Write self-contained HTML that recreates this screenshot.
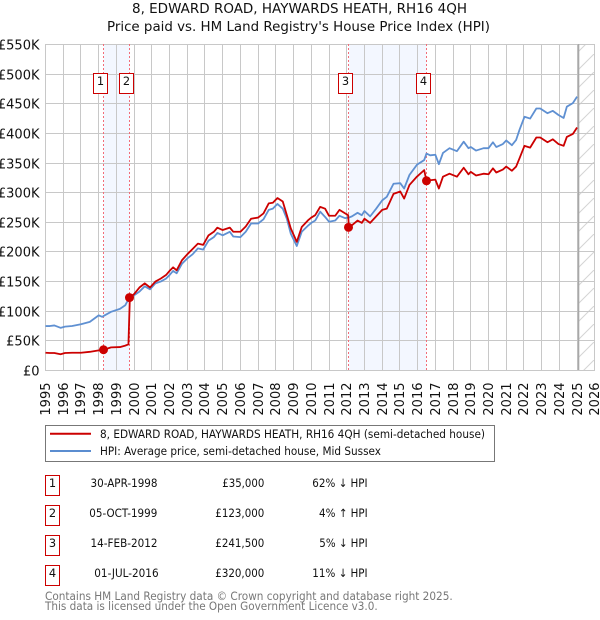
<!DOCTYPE html>
<html lang="en">
<head>
<meta charset="utf-8">
<title>8, Edward Road price paid vs HPI</title>
<style>
html,body{margin:0;padding:0;background:#fff;width:600px;height:620px;overflow:hidden}
svg{display:block}
text{font-family:"DejaVu Sans","Liberation Sans",sans-serif;fill:#111}
.tick{font-size:13px}
.row{font-size:11.4px}
.foot{font-size:11.4px;fill:#777}
</style>
</head>
<body>
<svg id="chart" xmlns="http://www.w3.org/2000/svg" width="600" height="620" viewBox="0 0 600 620">
  <defs>
    <pattern id="hatch" patternUnits="userSpaceOnUse" width="18" height="18">
      <line x1="0" y1="18" x2="18" y2="0" stroke="#d4d4d4" stroke-width="1"/>
    </pattern>
  </defs>
  <text x="132" y="13" textLength="335" lengthAdjust="spacingAndGlyphs" style="font-size:13px">8, EDWARD ROAD, HAYWARDS HEATH, RH16 4QH</text>
  <text x="107" y="31" textLength="383" lengthAdjust="spacingAndGlyphs" style="font-size:13px">Price paid vs. HM Land Registry's House Price Index (HPI)</text>
  <g id="plot"></g>

  <g>
    <rect x="45.5" y="425.5" width="449" height="36" fill="#fff" stroke="#777" stroke-width="1"/>
    <line x1="50" y1="433.7" x2="91" y2="433.7" stroke="#cc0000" stroke-width="2"/>
    <text class="row" x="100" y="438" textLength="385" lengthAdjust="spacingAndGlyphs">8, EDWARD ROAD, HAYWARDS HEATH, RH16 4QH (semi-detached house)</text>
    <line x1="50" y1="451" x2="91" y2="451" stroke="#5b8dd0" stroke-width="2"/>
    <text class="row" x="100" y="455" textLength="281" lengthAdjust="spacingAndGlyphs">HPI: Average price, semi-detached house, Mid Sussex</text>
  </g>

  <g>
    <g>
      <rect x="45.5" y="475.5" width="14" height="20" fill="#fff" stroke="#c00"/>
      <text class="row" x="52.5" y="487" text-anchor="middle">1</text>
      <text class="row" x="90.5" y="487" textLength="67" lengthAdjust="spacingAndGlyphs">30-APR-1998</text>
      <text class="row" x="222.3" y="487" textLength="42" lengthAdjust="spacingAndGlyphs">£35,000</text>
      <text class="row" x="312.3" y="487" textLength="55.3" lengthAdjust="spacingAndGlyphs">62% ↓ HPI</text>
    </g>
    <g>
      <rect x="45.5" y="505.5" width="14" height="20" fill="#fff" stroke="#c00"/>
      <text class="row" x="52.5" y="517" text-anchor="middle">2</text>
      <text class="row" x="89.3" y="517" textLength="68" lengthAdjust="spacingAndGlyphs">05-OCT-1999</text>
      <text class="row" x="215.3" y="517" textLength="49" lengthAdjust="spacingAndGlyphs">£123,000</text>
      <text class="row" x="319" y="517" textLength="48.7" lengthAdjust="spacingAndGlyphs">4% ↑ HPI</text>
    </g>
    <g>
      <rect x="45.5" y="535.5" width="14" height="20" fill="#fff" stroke="#c00"/>
      <text class="row" x="52.5" y="547" text-anchor="middle">3</text>
      <text class="row" x="90.5" y="547" textLength="67" lengthAdjust="spacingAndGlyphs">14-FEB-2012</text>
      <text class="row" x="215.3" y="547" textLength="49" lengthAdjust="spacingAndGlyphs">£241,500</text>
      <text class="row" x="319.3" y="547" textLength="48.3" lengthAdjust="spacingAndGlyphs">5% ↓ HPI</text>
    </g>
    <g>
      <rect x="45.5" y="565.5" width="14" height="20" fill="#fff" stroke="#c00"/>
      <text class="row" x="52.5" y="577" text-anchor="middle">4</text>
      <text class="row" x="94.3" y="577" textLength="64.3" lengthAdjust="spacingAndGlyphs">01-JUL-2016</text>
      <text class="row" x="215.3" y="577" textLength="49" lengthAdjust="spacingAndGlyphs">£320,000</text>
      <text class="row" x="312.3" y="577" textLength="55.3" lengthAdjust="spacingAndGlyphs">11% ↓ HPI</text>
    </g>
  </g>

  <text class="foot" x="45" y="600" textLength="407.7" lengthAdjust="spacingAndGlyphs">Contains HM Land Registry data © Crown copyright and database right 2025.</text>
  <text class="foot" x="45" y="610" textLength="332.7" lengthAdjust="spacingAndGlyphs">This data is licensed under the Open Government Licence v3.0.</text>
</svg>
<script>
const xTickYears = [1995,1996,1997,1998,1999,2000,2001,2002,2003,2004,2005,2006,2007,2008,2009,2010,2011,2012,2013,2014,2015,2016,2017,2018,2019,2020,2021,2022,2023,2024,2025,2026];
const yTickValues = [0,50,100,150,200,250,300,350,400,450,500,550];
const yTickLabels = ["£0","£50K","£100K","£150K","£200K","£250K","£300K","£350K","£400K","£450K","£500K","£550K"];

const dates = [1995,1995.25,1995.5,1995.85,1996.1,1996.5,1997,1997.5,1998,1998.2,1998.28,1998.7,1999.2,1999.5,1999.68,1999.76,
2000,2000.3,2000.6,2000.9,2001.2,2001.5,2001.8,2002,2002.2,2002.4,2002.7,2003,2003.3,2003.6,2003.9,2004.2,2004.5,2004.7,2005,2005.4,2005.6,2006,2006.3,2006.6,2007,2007.3,2007.6,
2007.83,2008.09,2008.39,2008.62,2008.84,2009.18,2009.46,2009.84,2010,2010.22,2010.5,2010.78,2011,2011.35,2011.59,2011.91,2012.08,2012.12,2012.29,2012.61,2012.85,2013,2013.32,2013.66,2014,2014.26,2014.64,2015.02,2015.24,2015.54,2015.96,2016.37,2016.5,
2016.71,2017,2017.2,2017.43,2017.8,2018.22,2018.6,2018.87,2019,2019.3,2019.72,2020,2020.25,2020.44,2020.81,2021,2021.32,2021.56,2021.75,2022.03,2022.35,2022.7,2022.92,2023.33,2023.63,2023.95,2024.24,2024.42,2024.76,2025];

const hpiValues = [75,75,76,72,74,75,78,82,93,90.5,92,99,104,110,120,122,
127,133,142,137,147,150,155,161,168,164,180,189,196,206,204,219,225,232,228,234,226,225,234,248,248,255,271,
273,281,273,256,231,210,234,245,249,253,268,259,251,253,261,257,258,258,260,266,262,269,260,273,287,293,315,316,307,330,347,355,366,
363,364,348,367,375,370,386,375,377,371,375,375,385,377,382,388,380,389,406,428,425,442,442,434,438,431,426,445,451,462];

const paidValues = [30,29.5,29.5,27.5,29.5,30,30,31.5,34,34.5,35,39,39.5,42,44,123,
129,140,147,140,150,155,161,168,174,169,186,196,205,214,212,228,234,241,237,241,234,234,243,256,258,265,282,
283,291,285,262,240,217,242,254,258,262,276,273,261,261,271,265,262,241.5,245,253,249,256,249,260,271,273,298,302,290,313,327,338,320,
321,322,307,327,332,327,342,331,335,329,332,331,341,334,339,344,337,344,358,379,376,393,393,385,390,382,379,394,399,410];

const saleDates = [1998.28,1999.76,2012.12,2016.5];
const salePrices = [35,123,241.5,320];
const saleLabels = ["1","2","3","4"];
const lastDataYear = 2025.08;

const NS = "http://www.w3.org/2000/svg";
const plot = document.getElementById("plot");
function xPos(year){ return 45.5 + (year - 1995) * 17.72; }
function yPos(v){ return 370.5 - v * 0.5928; }
function snap(p){ return Math.floor(p) + 0.5; }
function add(tag, attrs, parent){
  const n = document.createElementNS(NS, tag);
  for (const k in attrs) n.setAttribute(k, attrs[k]);
  (parent || plot).appendChild(n);
  return n;
}
function pathOf(xs, ys){
  return xs.map((d,i)=>(i?"L":"M")+xPos(d).toFixed(2)+" "+yPos(ys[i]).toFixed(2)).join(" ");
}

// shaded periods between pairs of sales
for (let i = 0; i < saleDates.length; i += 2) {
  const band = add("rect", {x:xPos(saleDates[i]), y:44, width:xPos(saleDates[i+1])-xPos(saleDates[i]), height:326, fill:"#f3f7ff"});
  
  
}

// hatched forecast area
const hatched = add("rect", {x:xPos(lastDataYear), y:44, width:xPos(2026)-xPos(lastDataYear), height:326, fill:"url(#hatch)"});



// grid and tick labels
xTickYears.forEach(function(yr){
  const gx = snap(Math.round(xPos(yr) - 0.5));
  const g = add("line", {x1:gx, x2:gx, y1:44, y2:371, stroke:"#c8c8c8", "stroke-width":1});
  
  
  const t = add("text", {"class":"tick", "text-anchor":"end", transform:"translate("+(gx+4.5)+",382.5) rotate(-90)"});
  t.textContent = yr;
  
  
});
yTickValues.forEach(function(v, i){
  const gy = snap(Math.round(yPos(v) - 0.5));
  const g = add("line", {x1:45, x2:595, y1:gy, y2:gy, stroke:"#c8c8c8", "stroke-width":1});
  
  
  const t = add("text", {"class":"tick", x:39.5, y:gy+5, "text-anchor":"end"});
  t.textContent = yTickLabels[i];
  
  
});

// dotted sale lines
saleDates.forEach(function(d){
  const sx = snap(xPos(d));
  const l = add("line", {x1:sx, x2:sx, y1:44, y2:370, stroke:"#f26d78", "stroke-width":1, "stroke-dasharray":"2 2"});
  
  
});

// last data marker
const lastX = xPos(lastDataYear);
const lastLine = add("line", {x1:lastX, x2:lastX, y1:44, y2:370, stroke:"#a8a8a8", "stroke-width":1.6});



// series
const hpiLine = add("path", {d:pathOf(dates, hpiValues), fill:"none", stroke:"#5f90d2", "stroke-width":1.8, "stroke-linejoin":"round"});


const paidLine = add("path", {d:pathOf(dates, paidValues), fill:"none", stroke:"#cc0000", "stroke-width":1.8, "stroke-linejoin":"round"});



// sale markers and number badges
saleDates.forEach(function(d, i){
  const m = add("circle", {cx:snap(xPos(d)), cy:yPos(salePrices[i]), r:4.5, fill:"#cc0000"});
  
  
  const bx = snap(xPos(d)) - 10;
  const b = add("rect", {x:bx, y:73.5, width:14, height:20, fill:"#fff", stroke:"#c00", "stroke-width":1});
  
  
  const t = add("text", {x:bx+7, y:85, "text-anchor":"middle", style:"font-size:11.4px"});
  t.textContent = saleLabels[i];
  
  
});
</script>
</body>
</html>
